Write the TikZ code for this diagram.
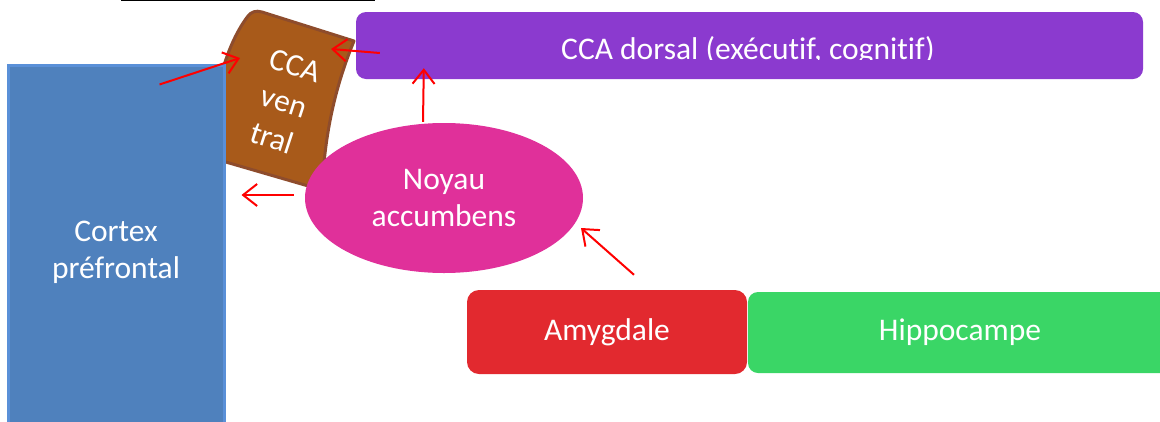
\documentclass[tikz,border=0pt]{standalone}
\usepackage{fontspec}
\setmainfont{Carlito}[Ligatures=NoCommon]
\usetikzlibrary{arrows.meta,calc,shapes.geometric}
\definecolor{pfcblue}{HTML}{4F81BD}
\definecolor{pfcedge}{HTML}{5A90D8}
\definecolor{ccabrown}{HTML}{A85A1A}
\definecolor{ccaedge}{HTML}{8E4C2C}
\definecolor{cdpurple}{HTML}{8B3ACF}
\definecolor{nacpink}{HTML}{E0309A}
\definecolor{amyred}{HTML}{E2292F}
\definecolor{hipgreen}{HTML}{3AD666}
\definecolor{arrred}{HTML}{FF0000}
\begin{document}
\begin{tikzpicture}[x=1pt,y=1pt,
  lbl/.style={text=white,font=\fontsize{31.5}{37}\selectfont,align=center},
  boxsty/.style={lbl,rectangle,inner sep=0pt,draw=none},
  arr/.style={draw=arrred,line width=2pt,-{Straight Barb[length=14pt,width=22pt]}}]
\useasboundingbox (0,0) rectangle (1160,-421);
% top line
\draw[black,line width=2pt] (121,-0.3) -- (375,-0.3);
% CCA ventral (curved block)
\draw[fill=ccabrown,draw=ccaedge,line width=3pt,line join=round]
  (262,-12) -- (354,-41) .. controls (336,-85) and (325,-130) .. (322,-190)
  -- (212,-158) .. controls (210,-110) and (222,-50) .. (248,-16)
  .. controls (251,-12) and (256,-10) .. (262,-12) -- cycle;
\node[lbl,rotate=-18,font=\fontsize{31.5}{38}\selectfont] (ccav) at (284,-102) {CCA\\ven\\tral};
% Cortex prefrontal
\node[boxsty,fill=pfcblue,draw=pfcedge,line width=3pt,minimum width=216pt,minimum height=375pt] (pfc) at (116,-252.5) {Cortex\\préfrontal};
% CCA dorsal
\node[boxsty,fill=cdpurple,rounded corners=10pt,minimum width=787pt,minimum height=67pt] (cd) at (749.5,-45.5) {};
\begin{scope}
\clip (356,-12) rectangle (1143,-59.5);
\node[lbl,anchor=base,inner sep=0pt] (cdtext) at (748,-59) {CCA dorsal (exécutif, cognitif)};
\end{scope}
% Noyau accumbens
\node[lbl,ellipse,fill=nacpink,inner sep=0pt,minimum width=278pt,minimum height=150pt] (nac) at (444,-198) {Noyau\\accumbens};
% Amygdale, Hippocampe
\node[boxsty,fill=amyred,rounded corners=12pt,minimum width=280pt,minimum height=84pt] (amy) at (607,-332) {Amygdale};
\node[boxsty,fill=hipgreen,rounded corners=10pt,minimum width=424pt,minimum height=81pt] (hip) at (960,-332.5) {Hippocampe};
% arrows
\draw[arr] ($(pfc.north east)+(-66,-21)$) -- ($(ccav)+(-44,44)$);
\draw[arr] ($(cd.west)+(24,-7.5)$) -- ($(ccav)+(47,53)$);
\draw[arr] ($(nac.north)+(-21,1)$) -- ($(cd.south west)+(68,11)$);
\draw[arr] ($(nac.west)+(-11,3)$) -- ($(pfc.east)+(16,57.5)$);
\draw[arr] ($(amy.north)+(27,15)$) -- ($(nac.center)+(137,-30)$);
\end{tikzpicture}
\end{document}
